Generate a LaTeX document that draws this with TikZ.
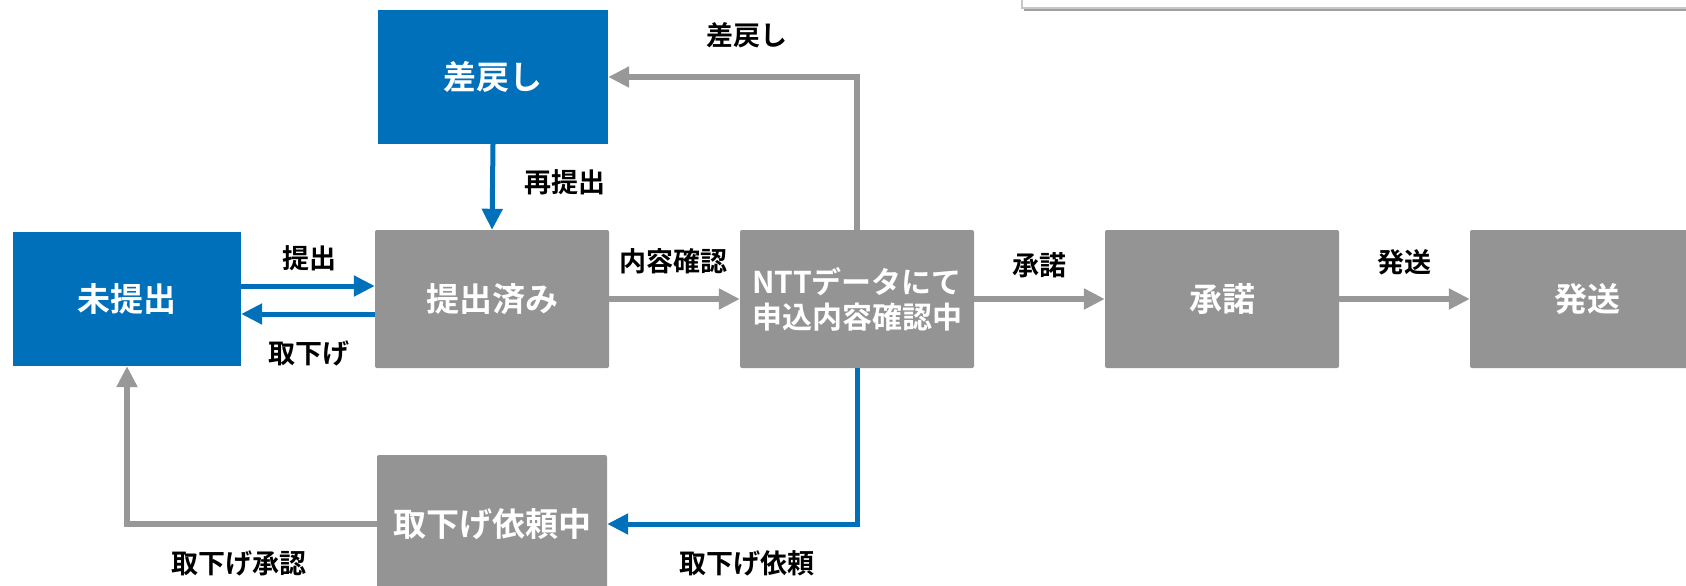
\documentclass[tikz,border=0pt]{standalone}
\usepackage{fontspec}
\setmainfont{Noto Sans CJK JP}[BoldFont={Noto Sans CJK JP Bold}]
\usetikzlibrary{arrows.meta}
\definecolor{cblue}{RGB}{0,112,186}
\definecolor{cgray}{RGB}{148,148,148}
\definecolor{agray}{RGB}{152,152,152}
\tikzset{
  boxbase/.style={inner sep=0pt, align=center, text=white,
    font=\fontsize{33}{37}\selectfont\bfseries},
  bluebox/.style={boxbase, fill=cblue},
  graybox/.style={boxbase, fill=cgray, rounded corners=2pt},
  lbl/.style={inner sep=0pt, font=\fontsize{27}{30}\selectfont\bfseries, text=black},
  garrow/.style={draw=agray, line width=5.5pt, -{Triangle[length=21pt,width=20pt]}},
  barrow/.style={draw=cblue, line width=5pt, -{Triangle[length=21pt,width=20pt]}},
}
\begin{document}
\begin{tikzpicture}[x=1pt,y=-1pt]
\useasboundingbox (0,0) rectangle (1686,586);
\clip (0,0) rectangle (1686,586);
% top-right panel edge
\fill[gray!75] (1024,-20) rectangle (1700,11);
\draw[draw=gray!45, line width=1.5pt, fill=white] (1022,-20) rectangle (1700,8);
% boxes
\node[bluebox, minimum width=228pt, minimum height=134pt] (mi) at (127,299) {未提出};
\node[bluebox, minimum width=230pt, minimum height=134pt] (sa) at (493,77) {差戻し};
\node[graybox, minimum width=234pt, minimum height=138pt] (ts) at (492,299) {提出済み};
\node[graybox, minimum width=234pt, minimum height=138pt, font=\fontsize{30}{35}\selectfont\bfseries] (ntt) at (857,299) {NTTデータにて\\申込内容確認中};
\node[graybox, minimum width=234pt, minimum height=138pt] (sd) at (1222,299) {承諾};
\node[graybox, minimum width=234pt, minimum height=138pt] (hs) at (1587,299) {発送};
\node[graybox, minimum width=230pt, minimum height=138pt] (tr) at (492,524) {取下げ依頼中};
% connectors
\draw[barrow] (mi.east |- 0,286) -- (ts.west |- 0,286);
\draw[barrow] (ts.west |- 0,314) -- (mi.east |- 0,314);
\draw[barrow] (sa.south) -- (ts.north);
\draw[garrow] (ts.east) -- (ntt.west);
\draw[garrow] (ntt.east) -- (sd.west);
\draw[garrow] (sd.east) -- (hs.west);
\draw[garrow] (ntt.north) |- (sa.east);
\draw[barrow] (ntt.south) |- (tr.east);
\draw[garrow] (tr.west) -| (mi.south);
% labels
\node[lbl] (l1) at (309,258) {提出};
\node[lbl] (l2) at (309,353) {取下げ};
\node[lbl] (l3) at (565,182) {再提出};
\node[lbl] (l4) at (747,35) {差戻し};
\node[lbl] (l5) at (673,261) {内容確認};
\node[lbl] (l6) at (1039,265) {承諾};
\node[lbl] (l7) at (1404,262) {発送};
\node[lbl] (l8) at (747,563) {取下げ依頼};
\node[lbl] (l9) at (239,563) {取下げ承認};
\end{tikzpicture}
\end{document}
